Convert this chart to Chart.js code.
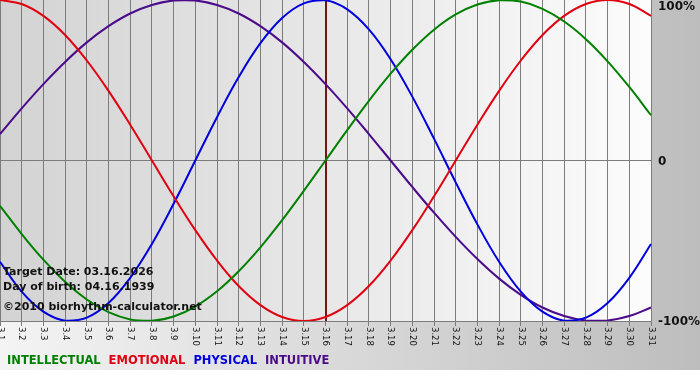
<!DOCTYPE html>
<html>
<head>
<meta charset="utf-8">
<script src="https://cdn.jsdelivr.net/npm/chart.js@4/dist/chart.umd.min.js"></script>
<style>
  html, body { margin: 0; padding: 0; background: #fff; }
  #wrap { width: 700px; height: 380px; }
</style>
</head>
<body>
<div id="wrap"><canvas id="bio" width="700" height="380"></canvas></div>
<script>
// days of the month shown on the x axis
const days = ['3.1', '3.2', '3.3', '3.4', '3.5', '3.6', '3.7', '3.8', '3.9', '3.10',
  '3.11', '3.12', '3.13', '3.14', '3.15', '3.16', '3.17', '3.18', '3.19', '3.20',
  '3.21', '3.22', '3.23', '3.24', '3.25', '3.26', '3.27', '3.28', '3.29', '3.30', '3.31'];

// cycle values in percent
const intellectual = [-28.2, -45.8, -61.8, -75.6, -86.6, -94.5, -99.0, -99.9, -97.2, -91.0,
  -81.5, -69.0, -54.1, -37.2, -18.9, 0, 18.9, 37.2, 54.1, 69.0,
  81.5, 91.0, 97.2, 99.9, 99.0, 94.5, 86.6, 75.6, 61.8, 45.8, 28.2];
const emotional = [100, 97.5, 90.1, 78.2, 62.3, 43.4, 22.3, 0, -22.3, -43.4,
  -62.3, -78.2, -90.1, -97.5, -100, -97.5, -90.1, -78.2, -62.3, -43.4,
  -22.3, 0, 22.3, 43.4, 62.3, 78.2, 90.1, 97.5, 100, 97.5, 90.1];
const physical = [-63.1, -81.7, -94.2, -99.8, -97.9, -88.8, -73.1, -52.0, -27.0, 0,
  27.0, 52.0, 73.1, 88.8, 97.9, 99.8, 94.2, 81.7, 63.1, 39.8,
  13.6, -13.6, -39.8, -63.1, -81.7, -94.2, -99.8, -97.9, -88.8, -73.1, -52.0];
const intuitive = [16.5, 32.5, 47.6, 61.4, 73.6, 83.7, 91.6, 96.9, 99.7, 99.7,
  96.9, 91.6, 83.7, 73.6, 61.4, 47.6, 32.5, 16.5, 0, -16.5,
  -32.5, -47.6, -61.4, -73.6, -83.7, -91.6, -96.9, -99.7, -99.7, -96.9, -91.6];

const yTicks = [100, 0, -100];
const yTickText = ['100%', '0', '-100%'];
const markerDay = '3.16';
const infoLines = ['Target Date: 03.16.2026', 'Day of birth: 04.16.1939'];
const copyright = '\u00a92010 biorhythm-calculator.net';

const FONT = '"DejaVu Sans", Verdana, sans-serif';

// backgrounds, day marker and all the extra text
const bioPlugin = {
  id: 'bioDeco',
  beforeDraw(chart) {
    const { ctx, chartArea: a, width, height } = chart;
    ctx.save();
    ctx.fillStyle = '#ffffff';
    ctx.fillRect(0, 0, width, height);
    let g = ctx.createLinearGradient(0, 0, width, 0);
    g.addColorStop(0, '#f4f4f4');
    g.addColorStop(1, '#bdbdbd');
    ctx.fillStyle = g;
    ctx.fillRect(0, 0, width, 370);
    g = ctx.createLinearGradient(a.left, 0, a.right, 0);
    g.addColorStop(0, '#d3d3d3');
    g.addColorStop(1, '#fcfcfc');
    ctx.fillStyle = g;
    ctx.fillRect(a.left, a.top, a.right - a.left, a.bottom - a.top);
    ctx.restore();
  },
  beforeDatasetsDraw(chart) {
    const { ctx, chartArea: a, scales: { x } } = chart;
    const px = Math.round(x.getPixelForValue(days.indexOf(markerDay)));
    ctx.save();
    ctx.strokeStyle = '#781414';
    ctx.lineWidth = 2;
    ctx.beginPath();
    ctx.moveTo(px, a.top);
    ctx.lineTo(px, a.bottom);
    ctx.stroke();
    ctx.restore();
  },
  afterDraw(chart) {
    const { ctx, chartArea: a, scales: { x, y } } = chart;
    ctx.save();
    // x tick labels, turned clockwise
    ctx.fillStyle = '#111';
    ctx.font = '8.5px ' + FONT;
    ctx.textAlign = 'left';
    ctx.textBaseline = 'middle';
    days.forEach((d, i) => {
      ctx.save();
      ctx.translate(x.getPixelForValue(i), a.bottom + 6);
      ctx.rotate(Math.PI / 2);
      ctx.fillText(d, 0, 0);
      ctx.restore();
    });
    // y labels on the right
    ctx.font = 'bold 12px ' + FONT;
    ctx.fillStyle = '#111';
    yTicks.forEach((v, i) => {
      let py = y.getPixelForValue(v);
      py = Math.min(Math.max(py + 1, a.top + 7), a.bottom + 1);
      ctx.fillText(yTickText[i], yTickText[i] === '0' ? a.right + 7 : a.right + 7, py);
    });
    // info text
    ctx.font = 'bold 11px ' + FONT;
    ctx.fillText(infoLines[0], 3, 272);
    ctx.fillText(infoLines[1], 3, 287);
    ctx.fillText(copyright, 3, 307);
    // legend
    ctx.font = 'bold 11.5px ' + FONT;
    let lx = 7;
    chart.data.datasets.forEach(ds => {
      ctx.fillStyle = ds.borderColor;
      ctx.fillText(ds.label, lx, 361);
      lx += ctx.measureText(ds.label).width + 8;
    });
    ctx.restore();
  }
};

new Chart(document.getElementById('bio'), {
  type: 'line',
  data: {
    labels: days,
    datasets: [
      { label: 'INTELLECTUAL', data: intellectual, borderColor: '#008000' },
      { label: 'EMOTIONAL', data: emotional, borderColor: '#e00010' },
      { label: 'PHYSICAL', data: physical, borderColor: '#0000dc' },
      { label: 'INTUITIVE', data: intuitive, borderColor: '#4b0a8a' }
    ].map(ds => Object.assign(ds, { borderWidth: 2, pointRadius: 0, tension: 0.4, fill: false }))
  },
  options: {
    responsive: false,
    animation: false,
    layout: { padding: { left: 0, top: 0, right: 49, bottom: 54 } },
    plugins: { legend: { display: false }, tooltip: { enabled: false } },
    scales: {
      x: {
        offset: false,
        ticks: { display: false },
        grid: { color: '#7c7c7c', lineWidth: 1, tickLength: 5, drawTicks: true },
        border: { display: true, color: '#7c7c7c' }
      },
      y: {
        min: -100,
        max: 100,
        ticks: { display: false, stepSize: 100 },
        grid: {
          drawTicks: false,
          color: c => (c.tick && c.tick.value === 0 ? '#7c7c7c' : 'rgba(0,0,0,0)')
        },
        border: { display: false }
      }
    }
  },
  plugins: [bioPlugin]
});
</script>
</body>
</html>
